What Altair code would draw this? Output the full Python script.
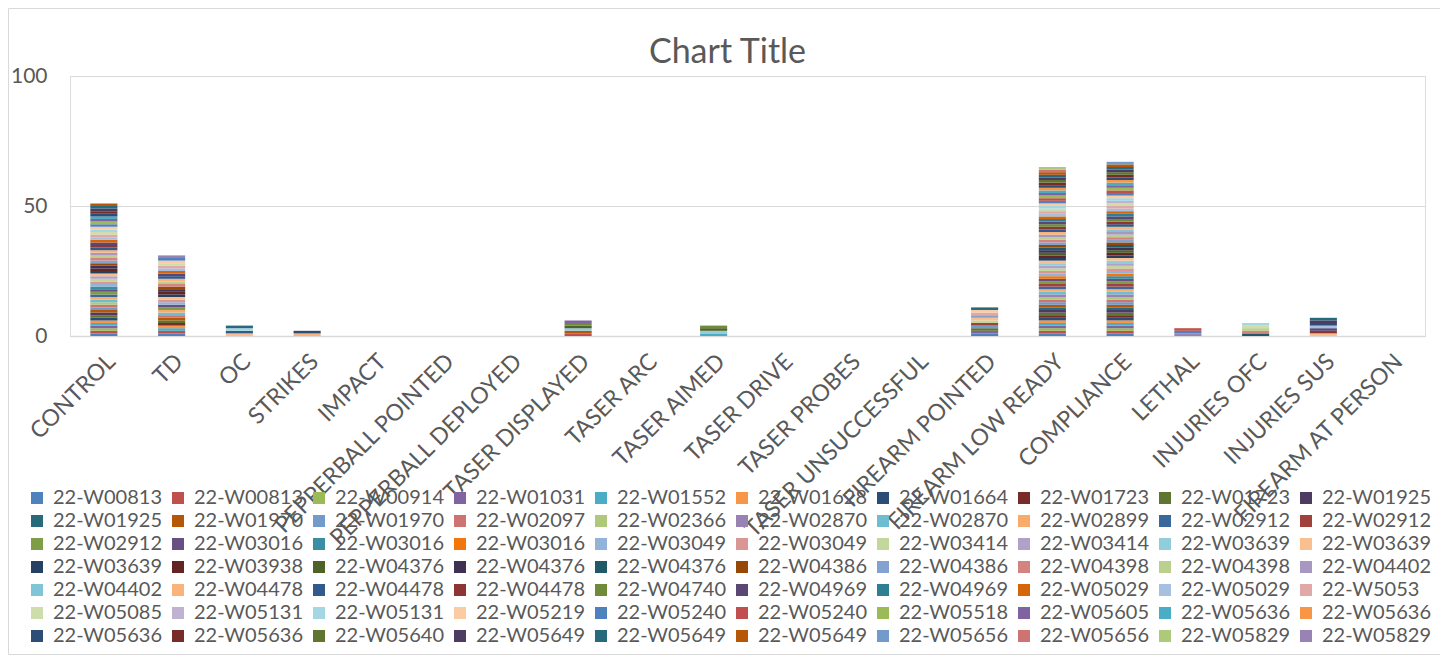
import altair as alt
import pandas as pd

categories = ["CONTROL", "TD", "OC", "STRIKES", "IMPACT", "PEPPERBALL POINTED",
              "PEPPERBALL DEPLOYED", "TASER DISPLAYED", "TASER ARC", "TASER AIMED",
              "TASER DRIVE", "TASER PROBES", "TASER UNSUCCESSFUL", "FIREARM POINTED",
              "FIREARM LOW READY", "COMPLIANCE", "LETHAL", "INJURIES OFC",
              "INJURIES SUS", "FIREARM AT PERSON"]

series_names = [
    "22-W00813", "22-W00813", "22-W00914", "22-W01031", "22-W01552", "22-W01628", "22-W01664", "22-W01723", "22-W01723", "22-W01925",
    "22-W01925", "22-W01970", "22-W01970", "22-W02097", "22-W02366", "22-W02870", "22-W02870", "22-W02899", "22-W02912", "22-W02912",
    "22-W02912", "22-W03016", "22-W03016", "22-W03016", "22-W03049", "22-W03049", "22-W03414", "22-W03414", "22-W03639", "22-W03639",
    "22-W03639", "22-W03938", "22-W04376", "22-W04376", "22-W04376", "22-W04386", "22-W04386", "22-W04398", "22-W04398", "22-W04402",
    "22-W04402", "22-W04478", "22-W04478", "22-W04478", "22-W04740", "22-W04969", "22-W04969", "22-W05029", "22-W05029", "22-W5053",
    "22-W05085", "22-W05131", "22-W05131", "22-W05219", "22-W05240", "22-W05240", "22-W05518", "22-W05605", "22-W05636", "22-W05636",
    "22-W05636", "22-W05636", "22-W05640", "22-W05649", "22-W05649", "22-W05649", "22-W05656", "22-W05656", "22-W05829", "22-W05829",
]

# one flag per series (series 1..70, in groups of ten) for each category
control   = "1111111011 0111101110 1110111101 1101011111 0111010111 1011101110 1101110000"
td        = "1100110110 0101001100 1100110001 1101010110 0110010111 1001100000 0000000001"
oc        = "0000000000 0000000000 0000000001 0000000000 0010000000 0010000000 0000100000"
strikes   = "0000000000 0000000000 0000000000 0000000000 0100000000 0000000000 1000000000"
impact    = "0000000000 0000000000 0000000000 0000000000 0000000000 0000000000 0000000000"
pb_point  = "0000000000 0000000000 0000000000 0000000000 0000000000 0000000000 0000000000"
pb_deploy = "0000000000 0000000000 0000000000 0000000000 0000000000 0000000000 0000000000"
taser_dis = "0100000000 0100000000 0000000010 0010000000 0000100000 0000000100 0000000000"
taser_arc = "0000000000 0000000000 0000000000 0000000000 0000000000 0000000000 0000000000"
taser_aim = "0000100000 0000000000 0000000010 0010000000 0000100000 0000000000 0000000000"
taser_drv = "0000000000 0000000000 0000000000 0000000000 0000000000 0000000000 0000000000"
taser_prb = "0000000000 0000000000 0000000000 0000000000 0000000000 0000000000 0000000000"
taser_uns = "0000000000 0000000000 0000000000 0000000000 0000000000 0000000000 0000000000"
fa_point  = "1001000010 0010000001 0000001001 0000001000 0000000001 0001000000 0000100000"
fa_low    = "1111111111 1111111111 1101111111 1111111111 0111111111 1011111111 1111110110"
compliance= "1111111111 1111111111 1111111111 1111111111 1111111111 1111111111 1111111000"
lethal    = "0000000000 0000010000 0000000000 0000000000 0000000000 0000110000 0000000000"
inj_ofc   = "0000000000 0000000000 0000000000 0000100110 0000000000 1010000000 0000000000"
inj_sus   = "0000000000 0000000000 0000000001 0000000000 0001010010 0000000000 1001100000"
fa_person = "0000000000 0000000000 0000000000 0000000000 0000000000 0000000000 0000000000"

flags = [control, td, oc, strikes, impact, pb_point, pb_deploy, taser_dis, taser_arc,
         taser_aim, taser_drv, taser_prb, taser_uns, fa_point, fa_low, compliance,
         lethal, inj_ofc, inj_sus, fa_person]

palette = [
    "#4F81BD", "#C0504D", "#9BBB59", "#8064A2", "#4BACC6", "#F79646",
    "#2C4D75", "#772C2A", "#5F7530", "#4D3B62", "#276A7C", "#B65708",
    "#729ACA", "#CD7371", "#AFC97A", "#9983B5", "#6FBDD1", "#F9AB6B",
    "#3A679C", "#A0413E", "#7E9D47", "#664F81", "#3A8EA3", "#F3760C",
    "#95B3D7", "#DA9694", "#C4D79B", "#B1A0C7", "#92CDDC", "#FABF8F",
    "#254061", "#632523", "#4F6228", "#3F3151", "#215967", "#974706",
    "#84A2D0", "#D48381", "#BBD08E", "#A897C1", "#7FC5D7", "#FAB37B",
    "#325B8C", "#8C3533", "#6F8B39", "#5A4775", "#2E7F93", "#D5650A",
    "#A7C0DF", "#E0A8A6", "#CDDDAC", "#C0B2D1", "#A5D6E3", "#FBCBA3",
]

keys = [f"{i + 1:02d}|{n}" for i, n in enumerate(series_names)]
colors = [palette[i % len(palette)] for i in range(len(keys))]

rows = []
for cat, f in zip(categories, flags):
    bits = f.replace(" ", "")
    for i, b in enumerate(bits):
        if b == "1":
            rows.append({"cat": cat, "key": keys[i], "idx": i + 1, "v": int(b)})
df = pd.DataFrame(rows)

FONT = "Lato"
GRAY = "#595959"
W, H = 1355, 260

bars = alt.Chart(df).mark_bar().encode(
    x=alt.X("cat:N", sort=categories, scale=alt.Scale(domain=categories, paddingInner=0.6, paddingOuter=0.3),
            axis=alt.Axis(title=None, labelAngle=-45, labelFontSize=23, labelColor=GRAY, labelFont=FONT,
                          domainColor="#d9d9d9", domainWidth=1.5, ticks=False, labelPadding=14,
                          labelLimit=400)),
    y=alt.Y("sum(v):Q", scale=alt.Scale(domain=[0, 100], nice=False),
            axis=alt.Axis(title=None, values=[0, 50, 100], labelFontSize=21, labelColor=GRAY, labelFont=FONT,
                          domain=False, ticks=False, gridColor="#d9d9d9", gridWidth=1, labelPadding=23)),
    color=alt.Color("key:N", scale=alt.Scale(domain=keys, range=colors),
                    legend=alt.Legend(title=None, orient="none", legendX=-43, legendY=412, columns=10,
                                      direction="horizontal",
                                      symbolType="square", symbolSize=144, symbolStrokeWidth=0,
                                      labelFontSize=20, labelColor=GRAY, labelFont=FONT,
                                      labelExpr="split(datum.label, '|')[1]", labelOffset=6,
                                      columnPadding=5, rowPadding=3, symbolLimit=100)),
    order=alt.Order("idx:Q", sort="ascending"),
)

frame = alt.Chart(alt.Data(values=[{"f": 1}])).mark_rect(
    fillOpacity=0, stroke="#d9d9d9", strokeWidth=1
).encode(x=alt.value(-61.5), x2=alt.value(1371.5), y=alt.value(-67.5), y2=alt.value(578.5))

chart = alt.layer(frame, bars).properties(
    width=W, height=H,
    title=alt.TitleParams("Chart Title", fontSize=34, color=GRAY, font=FONT, fontWeight="normal",
                          anchor="middle", frame="group", dx=-20, offset=-62),
    padding={"left": 62, "top": 68, "right": 15, "bottom": 320},
    autosize=alt.AutoSizeParams(type="none"),
).configure_view(stroke=None).configure(background="white")

chart.save("out.html", embed_options={"renderer": "svg", "actions": False})
